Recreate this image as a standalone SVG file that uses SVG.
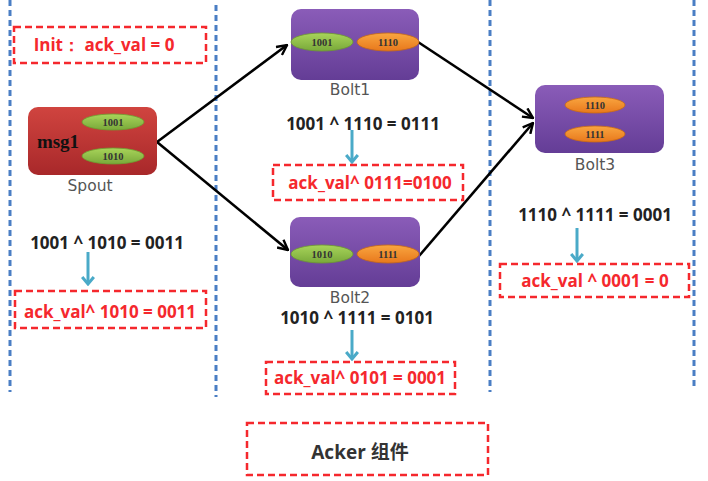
<svg xmlns="http://www.w3.org/2000/svg" width="708" height="481" viewBox="0 0 708 481">
<defs>
<style>
.lane{stroke:#4a7ec4;stroke-width:3;stroke-dasharray:6 4;fill:none}
.rbox{fill:none;stroke:#f5282d;stroke-width:2.5;stroke-dasharray:7 4}
.rtxt{font-family:"Open Sans","Liberation Sans",sans-serif;font-weight:bold;font-size:17px;fill:#f5282d;text-anchor:middle}
.ftxt{font-family:"Open Sans","Liberation Sans",sans-serif;font-weight:bold;font-size:17px;fill:#222;text-anchor:middle}
.lbl{font-family:"DejaVu Sans","Liberation Sans",sans-serif;font-size:15.5px;fill:#555;text-anchor:middle}
.etxt{font-family:"Liberation Serif",serif;font-weight:bold;font-size:10.5px;fill:#333;text-anchor:middle}
.green{fill:url(#gg);stroke:#6d9a2e;stroke-width:0.8}
.orange{fill:url(#og);stroke:#c86a14;stroke-width:0.8}
.bolt{fill:url(#pg)}
.conn{stroke:#000;stroke-width:2.6;fill:none;marker-end:url(#ah)}
.down{stroke:#4aaac8;stroke-width:3;fill:none;marker-end:url(#bh)}
</style>
<linearGradient id="pg" x1="0" y1="0" x2="0" y2="1"><stop offset="0" stop-color="#8a5cb8"/><stop offset="1" stop-color="#643d96"/></linearGradient>
<linearGradient id="rg" x1="0" y1="0" x2="0" y2="1"><stop offset="0" stop-color="#d0443f"/><stop offset="1" stop-color="#a8282a"/></linearGradient>
<linearGradient id="gg" x1="0" y1="0" x2="0" y2="1"><stop offset="0" stop-color="#a8d45a"/><stop offset="1" stop-color="#79a93a"/></linearGradient>
<linearGradient id="og" x1="0" y1="0" x2="0" y2="1"><stop offset="0" stop-color="#f9a640"/><stop offset="1" stop-color="#e8781c"/></linearGradient>
<marker id="ah" viewBox="0 0 12 12" refX="11" refY="6" markerWidth="12" markerHeight="12" markerUnits="userSpaceOnUse" orient="auto">
<path d="M1,1 L11,6 L1,11" fill="none" stroke="#000" stroke-width="2.4"/>
</marker>
<marker id="bh" viewBox="0 0 12 12" refX="6" refY="10" markerWidth="14" markerHeight="14" markerUnits="userSpaceOnUse" orient="0">
<path d="M1,4 L6,10 L11,4" fill="none" stroke="#4aaac8" stroke-width="2.6"/>
</marker>
</defs>
<rect width="708" height="481" fill="#fff"/>
<g id="lanes">
<line class="lane" x1="10" y1="0" x2="10" y2="392"/>
<line class="lane" x1="216" y1="5" x2="216" y2="397"/>
<line class="lane" x1="490" y1="0" x2="490" y2="392"/>
<line class="lane" x1="694" y1="0" x2="694" y2="388"/>
</g>
<g id="connectors">
<path class="conn" d="M157,142 L287,45"/>
<path class="conn" d="M157,142 L288,250"/>
<path class="conn" d="M418,42 L533,118"/>
<path class="conn" d="M419,256 L533,123"/>
<path class="down" d="M88,252 L88,284"/>
<path class="down" d="M352,130 L352,162"/>
<path class="down" d="M352,330 L352,359"/>
<path class="down" d="M577,228 L577,261"/>
</g>
<g id="init">
<rect class="rbox" x="14" y="27" width="192" height="36"/>
<text class="rtxt" x="104" y="51" font-size="16">Init：  ack_val = 0</text>
</g>
<g id="spout">
<rect x="28" y="107" width="129" height="68" rx="10" fill="url(#rg)"/>
<text x="58" y="148" font-family="Liberation Serif,serif" font-weight="bold" font-size="19" fill="#111" text-anchor="middle">msg1</text>
<ellipse class="green" cx="113" cy="122" rx="31" ry="8"/>
<text class="etxt" x="113" y="125.5">1001</text>
<ellipse class="green" cx="113" cy="156" rx="31" ry="8"/>
<text class="etxt" x="113" y="159.5">1010</text>
<text class="lbl" x="90" y="191">Spout</text>
</g>
<g id="bolt1">
<rect class="bolt" x="291" y="9" width="128" height="71" rx="10"/>
<ellipse class="green" cx="322" cy="42" rx="31" ry="9"/>
<text class="etxt" x="322" y="45.5">1001</text>
<ellipse class="orange" cx="388" cy="42" rx="31" ry="9"/>
<text class="etxt" x="388" y="45.5">1110</text>
<text class="lbl" x="350" y="95">Bolt1</text>
</g>
<g id="bolt2">
<rect class="bolt" x="290" y="217" width="130" height="70" rx="10"/>
<ellipse class="green" cx="322" cy="254" rx="31" ry="9"/>
<text class="etxt" x="322" y="257.5">1010</text>
<ellipse class="orange" cx="388" cy="254" rx="31" ry="9"/>
<text class="etxt" x="388" y="257.5">1111</text>
<text class="lbl" x="350" y="303">Bolt2</text>
</g>
<g id="bolt3">
<rect class="bolt" x="535" y="85" width="129" height="68" rx="10"/>
<ellipse class="orange" cx="595" cy="105" rx="30" ry="8"/>
<text class="etxt" x="595" y="108.5">1110</text>
<ellipse class="orange" cx="595" cy="134" rx="30" ry="8"/>
<text class="etxt" x="595" y="137.5">1111</text>
<text class="lbl" x="595" y="170">Bolt3</text>
</g>
<g id="calc-spout">
<text class="ftxt" x="107" y="249">1001 ^ 1010 = 0011</text>
<rect class="rbox" x="15" y="291" width="191" height="37"/>
<text class="rtxt" x="110" y="318">ack_val^ 1010 = 0011</text>
</g>
<g id="calc-bolt1">
<text class="ftxt" x="363" y="130">1001 ^ 1110 = 0111</text>
<rect class="rbox" x="273" y="165" width="190" height="35"/>
<text class="rtxt" x="370" y="189">ack_val^ 0111=0100</text>
</g>
<g id="calc-bolt2">
<text class="ftxt" x="357" y="324">1010 ^ 1111 = 0101</text>
<rect class="rbox" x="266" y="362" width="189" height="32"/>
<text class="rtxt" x="360" y="384">ack_val^ 0101 = 0001</text>
</g>
<g id="calc-bolt3">
<text class="ftxt" x="595" y="221">1110 ^ 1111 = 0001</text>
<rect class="rbox" x="500" y="264" width="189" height="33"/>
<text class="rtxt" x="595" y="287">ack_val  ^  0001 = 0</text>
</g>
<g id="acker">
<rect class="rbox" x="247" y="423" width="241" height="52"/>
<text x="360" y="459" font-family="Open Sans,Noto Sans CJK SC,sans-serif" font-weight="bold" font-size="19" fill="#333" text-anchor="middle">Acker 组件</text>
</g>
</svg>
